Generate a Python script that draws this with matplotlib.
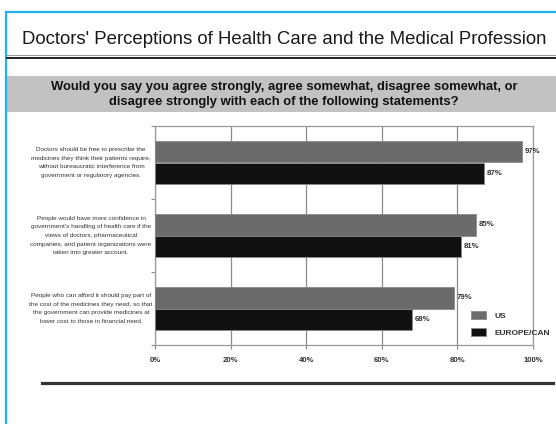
import matplotlib
matplotlib.use("Agg")
import matplotlib.pyplot as plt
from matplotlib.lines import Line2D
from matplotlib.patches import Rectangle
from matplotlib.transforms import blended_transform_factory

plt.rcParams['font.family'] = ['Liberation Sans', 'DejaVu Sans']

title = "Doctors' Perceptions of Health Care and the Medical Profession"
subtitle = ("Would you say you agree strongly, agree somewhat, disagree somewhat, or\n"
            "disagree strongly with each of the following statements?")
categories = [
    "Doctors should be free to prescribe the\nmedicines they think their patients require,\n"
    "without bureaucratic interference from\ngovernment or regulatory agencies.",
    "People would have more confidence in\ngovernment's handling of health care if the\n"
    "views of doctors, pharmaceutical\ncompanies, and patient organizations were\ntaken into greater account.",
    "People who can afford it should pay part of\nthe cost of the medicines they need, so that\n"
    "the government can provide medicines at\nlower cost to those in financial need.",
]
series_names = ["US", "EUROPE/CAN"]
us_values = [97, 85, 79]
eu_values = [87, 81, 68]
x_ticks = [0, 20, 40, 60, 80, 100]
x_tick_labels = ["0%", "20%", "40%", "60%", "80%", "100%"]

W, H = 556, 424
fig = plt.figure(figsize=(W / 100, H / 100), dpi=100)
fig.patch.set_facecolor("white")

def fx(px):
    return px / W

def fy(py):
    return 1 - py / H

# blue border
fig.add_artist(Line2D([fx(5.5), fx(5.5)], [fy(424), fy(11.5)], color="#1FB3EE", lw=1.6))
fig.add_artist(Line2D([fx(5.5), fx(556)], [fy(11.5), fy(11.5)], color="#1FB3EE", lw=1.6))

# title
fig.text(fx(284.5), fy(40), title, ha="center", va="center", fontsize=13.4, color="#1a1a1a")
fig.add_artist(Line2D([fx(7), fx(556)], [fy(55), fy(55)], color="#9a9a9a", lw=0.8))
fig.add_artist(Line2D([fx(7), fx(556)], [fy(57.5), fy(57.5)], color="#111111", lw=1.3))

# gray band with subtitle
fig.add_artist(Rectangle((fx(7), fy(112)), fx(556) - fx(7), fy(76) - fy(112),
                         transform=fig.transFigure, facecolor="#C2C2C2", edgecolor="none"))
fig.text(fx(284), fy(94.5), subtitle, ha="center", va="center", fontsize=9.4,
         fontweight="bold", color="#111111", linespacing=1.3)

# bottom rule
fig.add_artist(Line2D([fx(42), fx(553)], [fy(383), fy(383)], color="#333333", lw=2.3))

ax = fig.add_axes([fx(155), fy(345), fx(533) - fx(155), fy(126) - fy(345)])
ax.set_facecolor("white")
h = 0.295
ys = list(range(len(categories)))
bars_us = ax.barh([y - h / 2 for y in ys], us_values, height=h, color="#6B6B6B",
                  edgecolor="#8a8a8a", linewidth=0.6, label=series_names[0], zorder=3)
bars_eu = ax.barh([y + h / 2 for y in ys], eu_values, height=h, color="#111111",
                  edgecolor="#8a8a8a", linewidth=0.6, label=series_names[1], zorder=3)
for bars in (bars_us, bars_eu):
    for b in bars:
        ax.annotate(f"{int(b.get_width())}%", (b.get_width(), b.get_y() + b.get_height() / 2),
                    xytext=(2, 0), textcoords="offset points", va="center", ha="left",
                    fontsize=5.6, fontweight="bold", color="#333333")

ax.set_xlim(0, 100)
ax.set_ylim(2.5, -0.5)
ax.set_xticks(x_ticks)
ax.set_xticklabels(x_tick_labels, fontsize=5.6, fontweight="bold", color="#333333")
ax.set_yticks([-0.5, 0.5, 1.5, 2.5])
ax.set_yticklabels([])
ax.tick_params(axis="x", length=3, color="#888888", pad=6)
ax.tick_params(axis="y", length=3, color="#888888")
ax.grid(axis="x", color="#8c8c8c", lw=0.9, zorder=1)
for s in ax.spines.values():
    s.set_color("#9a9a9a")
    s.set_linewidth(0.9)

tr = blended_transform_factory(fig.transFigure, ax.transData)
for y, c in zip(ys, categories):
    ax.text(fx(91), y, c, transform=tr, ha="center", va="center", fontsize=4.6,
            color="#333333", linespacing=1.9, clip_on=False)

leg = ax.legend(loc="upper left", bbox_to_anchor=(fx(471), fy(311)),
                bbox_transform=fig.transFigure, frameon=False,
                prop={"weight": "bold", "size": 6}, handlelength=1.8, handleheight=1.08,
                handletextpad=1.0, labelspacing=1.0, borderaxespad=0, borderpad=0)
for t in leg.get_texts():
    t.set_color("#333333")

fig.savefig("out.png", dpi=100, facecolor="white")
